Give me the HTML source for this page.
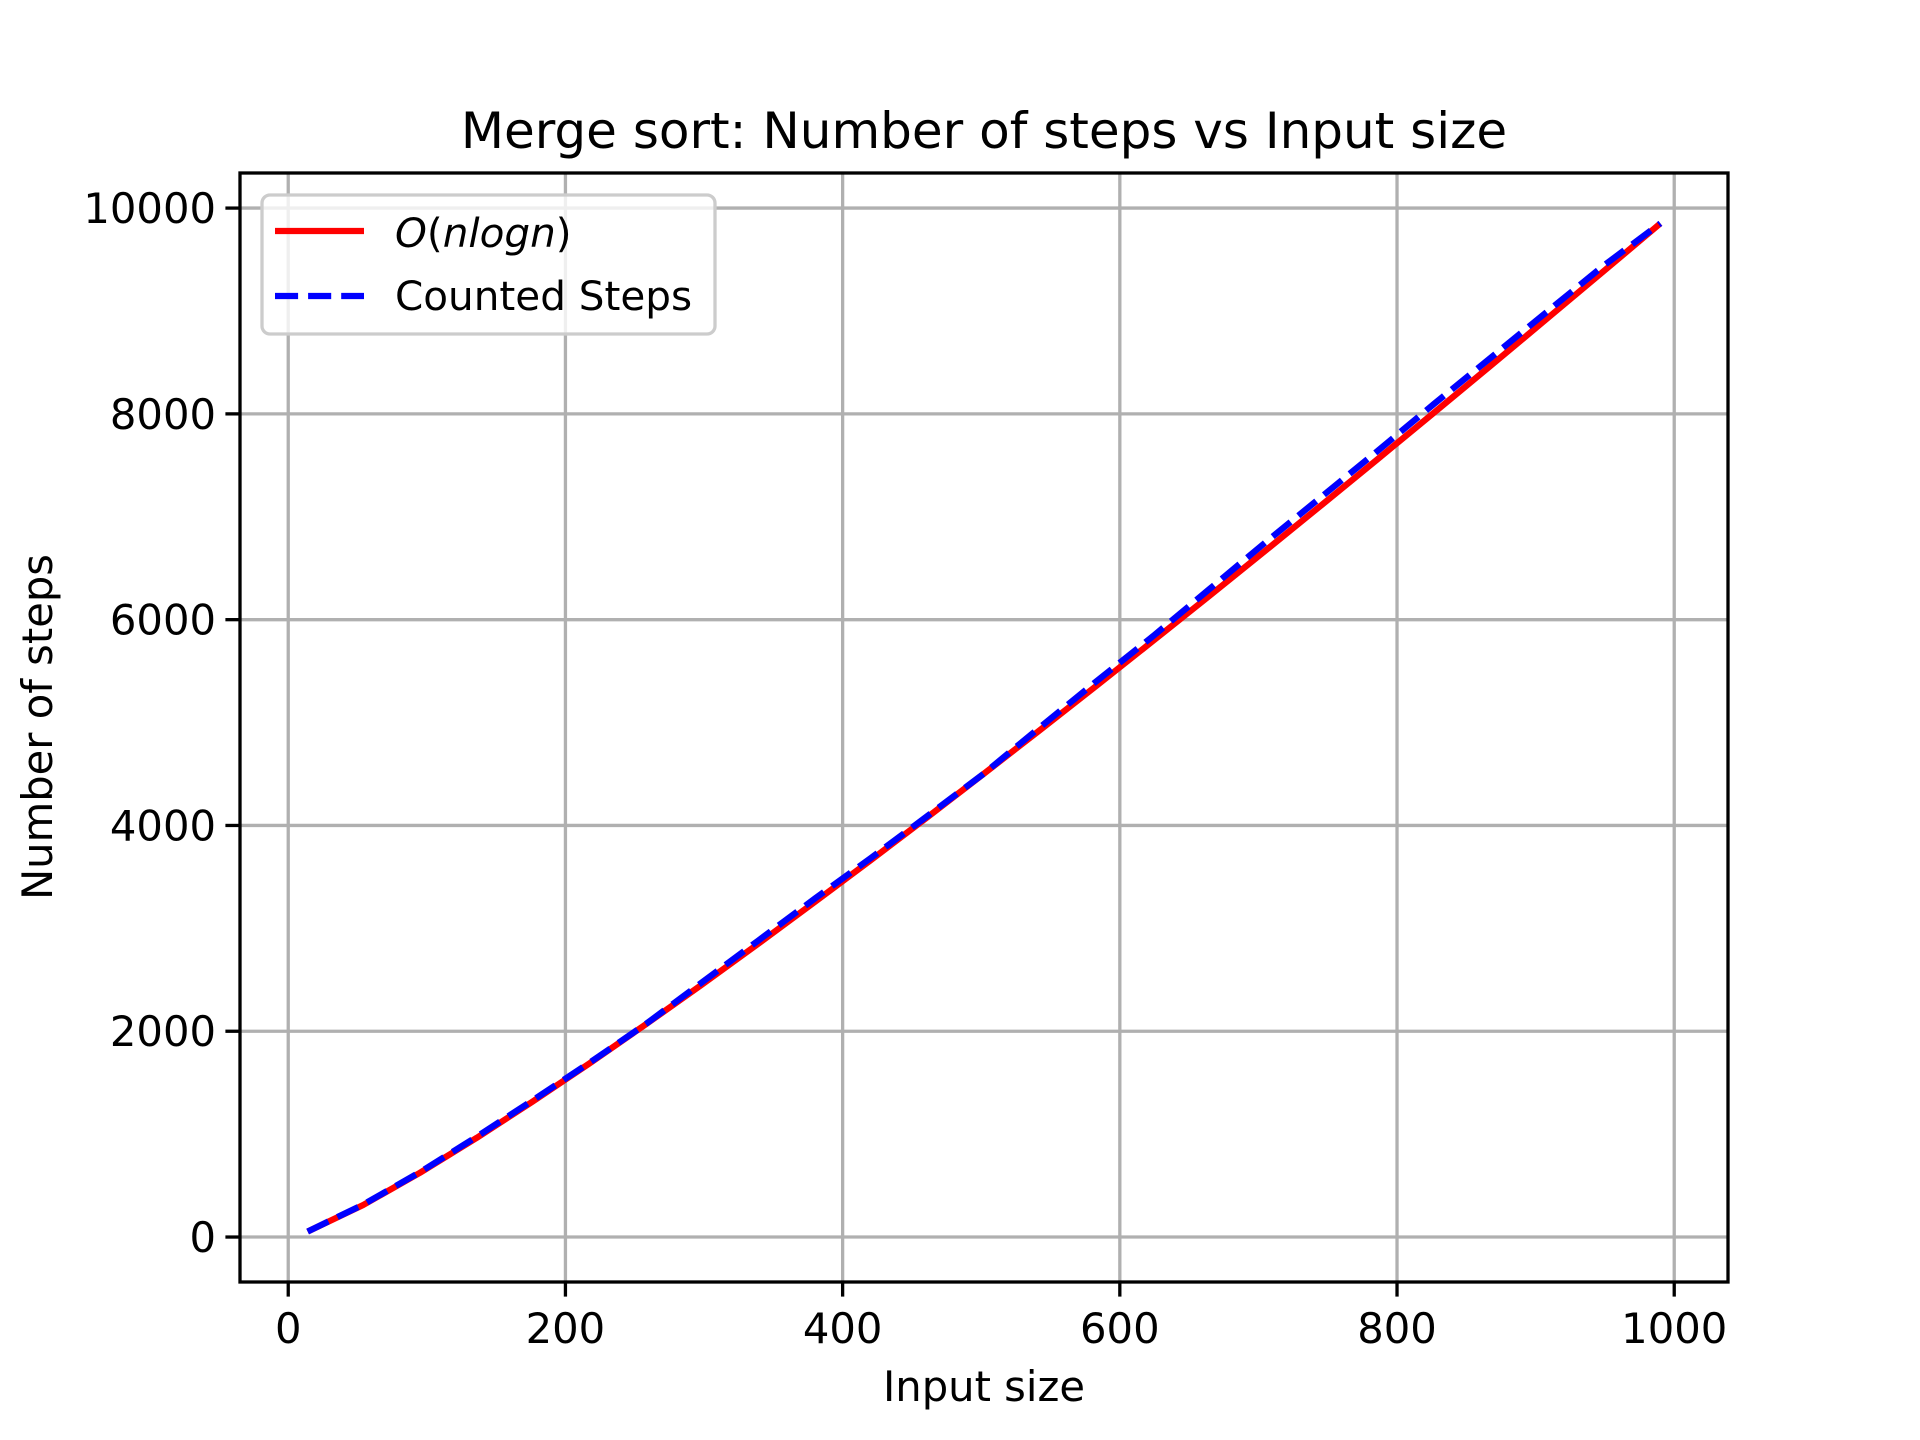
<!DOCTYPE html>
<html><head><meta charset="utf-8"><style>
html,body{margin:0;padding:0;background:#fff;}
svg{display:block;font-family:"DejaVu Sans","Liberation Sans",sans-serif;}
</style></head><body>
<svg id="chart" width="1920" height="1440" viewBox="0 0 1920 1440" xmlns="http://www.w3.org/2000/svg">
<rect x="0" y="0" width="1920" height="1440" fill="#fff"/>
<g id="grid"></g>
<g id="series"></g>
<g id="axes"></g>
<text x="984" y="148" font-size="50" text-anchor="middle">Merge sort: Number of steps vs Input size</text>
<text x="984" y="1401" font-size="41.7" text-anchor="middle">Input size</text>
<text x="0" y="0" font-size="41.7" text-anchor="middle" transform="translate(52,727) rotate(-90)">Number of steps</text>
<g>
<rect x="262" y="195" width="453" height="139" rx="8" fill="#fff" fill-opacity="0.8" stroke="#ccc" stroke-width="3.3"/>
<line x1="275" y1="231" x2="364" y2="231" stroke="#f00" stroke-width="6.25"/>
<text x="395" y="247" font-size="40.5"><tspan font-style="italic">O</tspan>(<tspan font-style="italic">nlogn</tspan>)</text>
<line x1="275" y1="296" x2="364" y2="296" stroke="#00f" stroke-width="6.25" stroke-dasharray="23.1,10"/>
<text x="395" y="310" font-size="40.5">Counted Steps</text>
</g>
</svg>
<script>
const inputSizes = [14, 54, 95, 136, 176, 217, 258, 298, 339, 380, 420, 461, 502, 542, 583, 624, 664, 705, 746, 786, 827, 868, 908, 949, 990];
const nlognValues = [53, 311, 624, 964, 1313, 1684, 2067, 2449, 2849, 3257, 3660, 4079, 4504, 4923, 5356, 5794, 6225, 6670, 7119, 7560, 8015, 8473, 8923, 9386, 9851];
const countedValues = [53, 315, 630, 975, 1325, 1690, 2070, 2470, 2880, 3290, 3680, 4090, 4505, 4950, 5400, 5840, 6290, 6750, 7200, 7640, 8100, 8550, 8990, 9440, 9851];
const xTicks = [0, 200, 400, 600, 800, 1000];
const yTicks = [0, 2000, 4000, 6000, 8000, 10000];

const L=240,R=1728,T=173,B=1282;
const xMin=-34.8,xMax=1038.8,yMin=-437,yMax=10341;
const xs=v=>L+(v-xMin)/(xMax-xMin)*(R-L);
const ys=v=>B-(v-yMin)/(yMax-yMin)*(B-T);
const NS="http://www.w3.org/2000/svg";
function mk(tag,attrs,parent){const e=document.createElementNS(NS,tag);for(const k in attrs)e.setAttribute(k,attrs[k]);parent.appendChild(e);return e;}
const grid=document.getElementById('grid'),axes=document.getElementById('axes'),series=document.getElementById('series');
xTicks.forEach(t=>{
  const x=xs(t);
  const g=mk('line',{x1:x,y1:T,x2:x,y2:B,stroke:'#b0b0b0','stroke-width':3.3},grid);
  
  
  const tk=mk('line',{x1:x,y1:B,x2:x,y2:B+14.6,stroke:'#000','stroke-width':3.3},axes);
  
  
  const tl=mk('text',{x:x,y:B+61,'font-size':41.7,'text-anchor':'middle'},axes);
  tl.textContent=t;
  
  
});
yTicks.forEach(t=>{
  const y=ys(t);
  const g=mk('line',{x1:L,y1:y,x2:R,y2:y,stroke:'#b0b0b0','stroke-width':3.3},grid);
  
  
  const tk=mk('line',{x1:L-14.6,y1:y,x2:L,y2:y,stroke:'#000','stroke-width':3.3},axes);
  
  
  const tl=mk('text',{x:L-24,y:y+15,'font-size':41.7,'text-anchor':'end'},axes);
  tl.textContent=t;
  
  
});
const frame=mk('rect',{x:L,y:T,width:R-L,height:B-T,fill:'none',stroke:'#000','stroke-width':3.3},axes);


function pts(vals){return inputSizes.map((n,i)=>xs(n)+','+ys(vals[i])).join(' ');}
const l1=mk('polyline',{points:pts(nlognValues),fill:'none',stroke:'#f00','stroke-width':6.25,'stroke-linejoin':'round'},series);


const l2=mk('polyline',{points:pts(countedValues),fill:'none',stroke:'#00f','stroke-width':6.25,'stroke-dasharray':'23.1,10'},series);


</script>
</body></html>
